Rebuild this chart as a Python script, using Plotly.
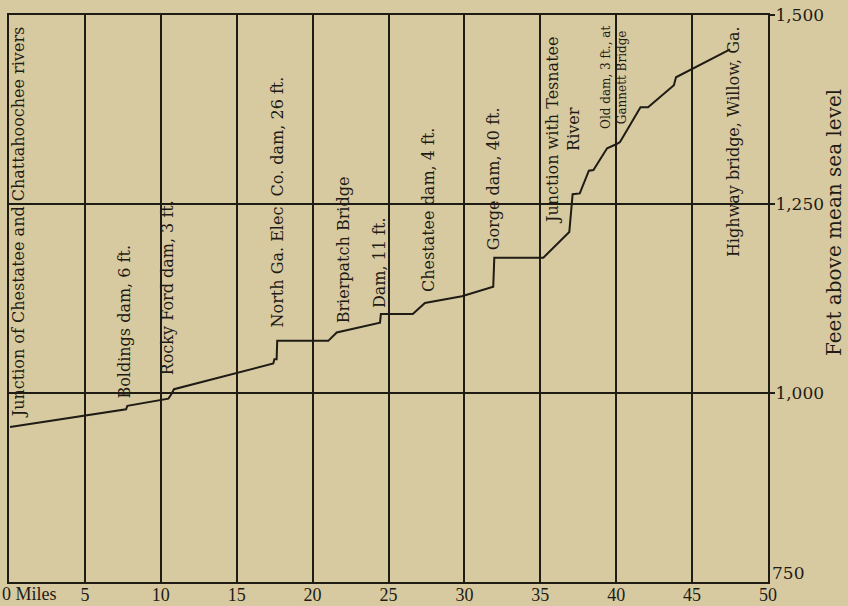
import plotly.graph_objects as go

# River profile: distance (miles) vs elevation (feet above mean sea level)
miles = [0.07, 7.71, 7.8, 10.5, 10.65, 10.87, 17.41, 17.48, 17.63, 17.67, 21.03, 21.59,
         24.44, 24.5, 26.6, 27.4, 29.84, 31.69, 31.9, 31.97, 35.2, 36.91, 37.13, 37.6,
         38.2, 38.5, 39.3, 39.4, 40.0, 40.25, 41.6, 42.1, 43.8, 43.94, 47.5]
feet = [955, 978.5, 983, 992.5, 997, 1005, 1039, 1044.6, 1044.6, 1069, 1069, 1080,
        1093, 1104.5, 1104.5, 1119, 1128, 1139, 1140.6, 1179, 1179, 1213, 1263, 1264,
        1294, 1295, 1319, 1323.7, 1329, 1332, 1378, 1378, 1407, 1417.6, 1454.6]

x_ticks = [5, 10, 15, 20, 25, 30, 35, 40, 45, 50]
x_tick_labels = ["5", "10", "15", "20", "25", "30", "35", "40", "45", "50"]
y_ticks = [1000, 1250, 1500]
y_tick_labels = ["1,000", "1,250", "1,500"]

label_texts = [
    "Junction of Chestatee and Chattahoochee rivers",
    "Boldings dam, 6 ft.",
    "Rocky Ford dam, 3 ft.",
    "North Ga. Elec. Co. dam, 26 ft.",
    "Brierpatch Bridge",
    "Dam, 11 ft.",
    "Chestatee dam, 4 ft.",
    "Gorge dam, 40 ft.",
    "Junction with Tesnatee<br>River",
    "Old dam, 3 ft., at<br>Gannett Bridge",
    "Highway bridge, Willow, Ga.",
]
label_x = [0.6, 7.6, 10.5, 17.7, 22.0, 24.45, 27.6, 31.9, 36.5, 39.85, 47.7]
label_y = [1226, 1095, 1139, 1253, 1190, 1172, 1242, 1283, 1348, 1418, 1332]
label_size = [16, 16, 16, 16, 16, 16, 16, 16, 16, 12, 16]

INK = "#1f1b15"
BG = "#d7caa0"

fig = go.Figure()
fig.add_trace(go.Scatter(x=miles, y=feet, mode="lines",
                         line=dict(color=INK, width=2), showlegend=False,
                         hoverinfo="skip"))

for t, lx, ly, s in zip(label_texts, label_x, label_y, label_size):
    fig.add_annotation(x=lx, y=ly, xref="x", yref="y", text=t, textangle=-90,
                       showarrow=False, align="center",
                       font=dict(family="DejaVu Serif", size=s, color=INK))

fig.add_annotation(x=0, y=750, xref="paper", yref="y", text="0 Miles",
                   showarrow=False, xanchor="left", yanchor="top", xshift=-9, yshift=0,
                   font=dict(family="Liberation Serif", size=18, color=INK))
fig.add_annotation(x=1, y=750, xref="paper", yref="y", text="750",
                   showarrow=False, xanchor="left", yanchor="bottom", xshift=2, yshift=-3,
                   font=dict(family="DejaVu Serif", size=17, color=INK))
fig.add_annotation(xref="paper", yref="paper", xanchor="center", yanchor="middle",
                   x=(834 - 9) / 759, y=(582 - 223) / 567, text="Feet above mean sea level",
                   showarrow=False, textangle=-90,
                   font=dict(family="DejaVu Serif", size=20, color=INK))

fig.update_layout(
    width=848, height=606,
    margin=dict(l=9, r=80, t=15, b=24, autoexpand=False),
    paper_bgcolor=BG, plot_bgcolor=BG,
    xaxis=dict(range=[0, 50], tickvals=x_ticks, ticktext=x_tick_labels, automargin=False,
               showgrid=True, gridcolor=INK, gridwidth=1.5, zeroline=False,
               showline=True, linecolor=INK, linewidth=2, mirror=True,
               ticks="", ticklabelstandoff=-5,
               tickfont=dict(family="Liberation Serif", size=18, color=INK)),
    yaxis=dict(range=[750, 1500], side="right", tickvals=y_ticks, ticktext=y_tick_labels,
               automargin=False,
               showgrid=True, gridcolor=INK, gridwidth=1.5, zeroline=False,
               showline=True, linecolor=INK, linewidth=2, mirror=True,
               ticks="outside", ticklen=5, tickcolor=INK, tickwidth=1.5,
               ticklabelstandoff=-3,
               tickfont=dict(family="DejaVu Serif", size=17, color=INK)),
)

fig.write_html("out.html", config={"displayModeBar": False},
               post_script="document.body.style.margin='0';"
                           "document.body.style.background='" + BG + "';")
